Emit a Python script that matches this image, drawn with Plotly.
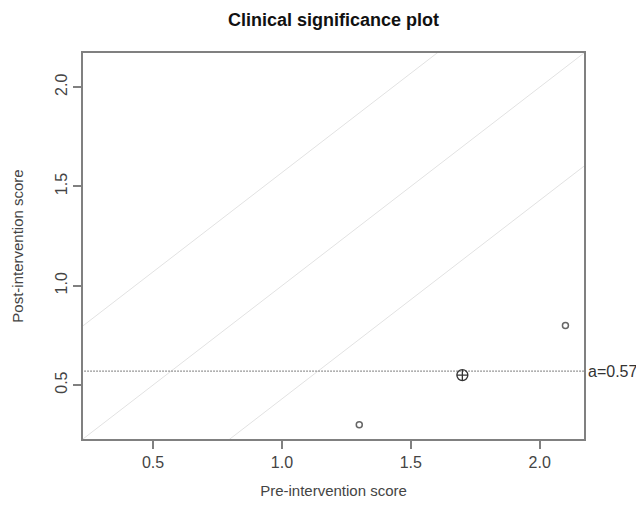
import plotly.graph_objects as go

# Data
pre_scores = [1.3, 2.1]
post_scores = [0.3, 0.8]
mean_pre = [1.7]
mean_post = [0.55]
cutoff_a = 0.57
band_offsets = [0.57, 0.0, -0.57]
axis_range = [0.228, 2.172]
tick_vals = [0.5, 1.0, 1.5, 2.0]
tick_text = ["0.5", "1.0", "1.5", "2.0"]

line_x = [-1.0, 4.0]
FONT = "Liberation Sans, Arial, sans-serif"

fig = go.Figure()

for off in band_offsets:
    fig.add_trace(go.Scatter(
        x=line_x, y=[v + off for v in line_x], mode="lines",
        line=dict(color="#e2e2e2", width=1), hoverinfo="skip", showlegend=False))

fig.add_trace(go.Scatter(
    x=line_x, y=[cutoff_a, cutoff_a], mode="lines",
    line=dict(color="#333333", width=1.2, dash="1px,2px"), hoverinfo="skip", showlegend=False))

fig.add_trace(go.Scatter(
    x=pre_scores, y=post_scores, mode="markers",
    marker=dict(symbol="circle-open", size=6, color="#666666", line=dict(width=1.5)),
    showlegend=False))

fig.add_trace(go.Scatter(
    x=mean_pre, y=mean_post, mode="markers",
    marker=dict(symbol="circle-cross-open", size=11, color="#333333", line=dict(width=1.3)),
    showlegend=False))

fig.add_annotation(
    x=1.0, xref="paper", y=cutoff_a, yref="y", text="a=" + str(cutoff_a),
    showarrow=False, xanchor="left", yanchor="middle", xshift=2,
    font=dict(family=FONT, size=16, color="#333333"))

axis_common = dict(
    range=axis_range, tickvals=tick_vals, ticktext=tick_text,
    showgrid=False, zeroline=False, showline=True, mirror=True,
    linecolor="#808080", linewidth=1.5, ticks="outside", ticklen=8,
    tickcolor="#808080", tickwidth=1.5,
    tickfont=dict(family=FONT, size=16, color="#444444"),
)

fig.update_layout(
    width=636, height=509,
    margin=dict(l=83, r=52, t=53, b=67),
    paper_bgcolor="white", plot_bgcolor="white",
    title=dict(text="<b>Clinical significance plot</b>", x=(83 + 584) / 2 / 636,
               xanchor="center", y=1 - 20 / 509, yanchor="middle",
               font=dict(family=FONT, size=18, color="#111111")),
    xaxis=dict(**axis_common,
               title=dict(text="Pre-intervention score", standoff=16,
                          font=dict(family=FONT, size=15, color="#444444"))),
    yaxis=dict(**axis_common, tickangle=-90,
               title=dict(text="Post-intervention score", standoff=26,
                          font=dict(family=FONT, size=15, color="#444444"))),
)

fig.write_html("out.html", config={"displayModeBar": False},
               post_script="document.body.style.margin='0';")
